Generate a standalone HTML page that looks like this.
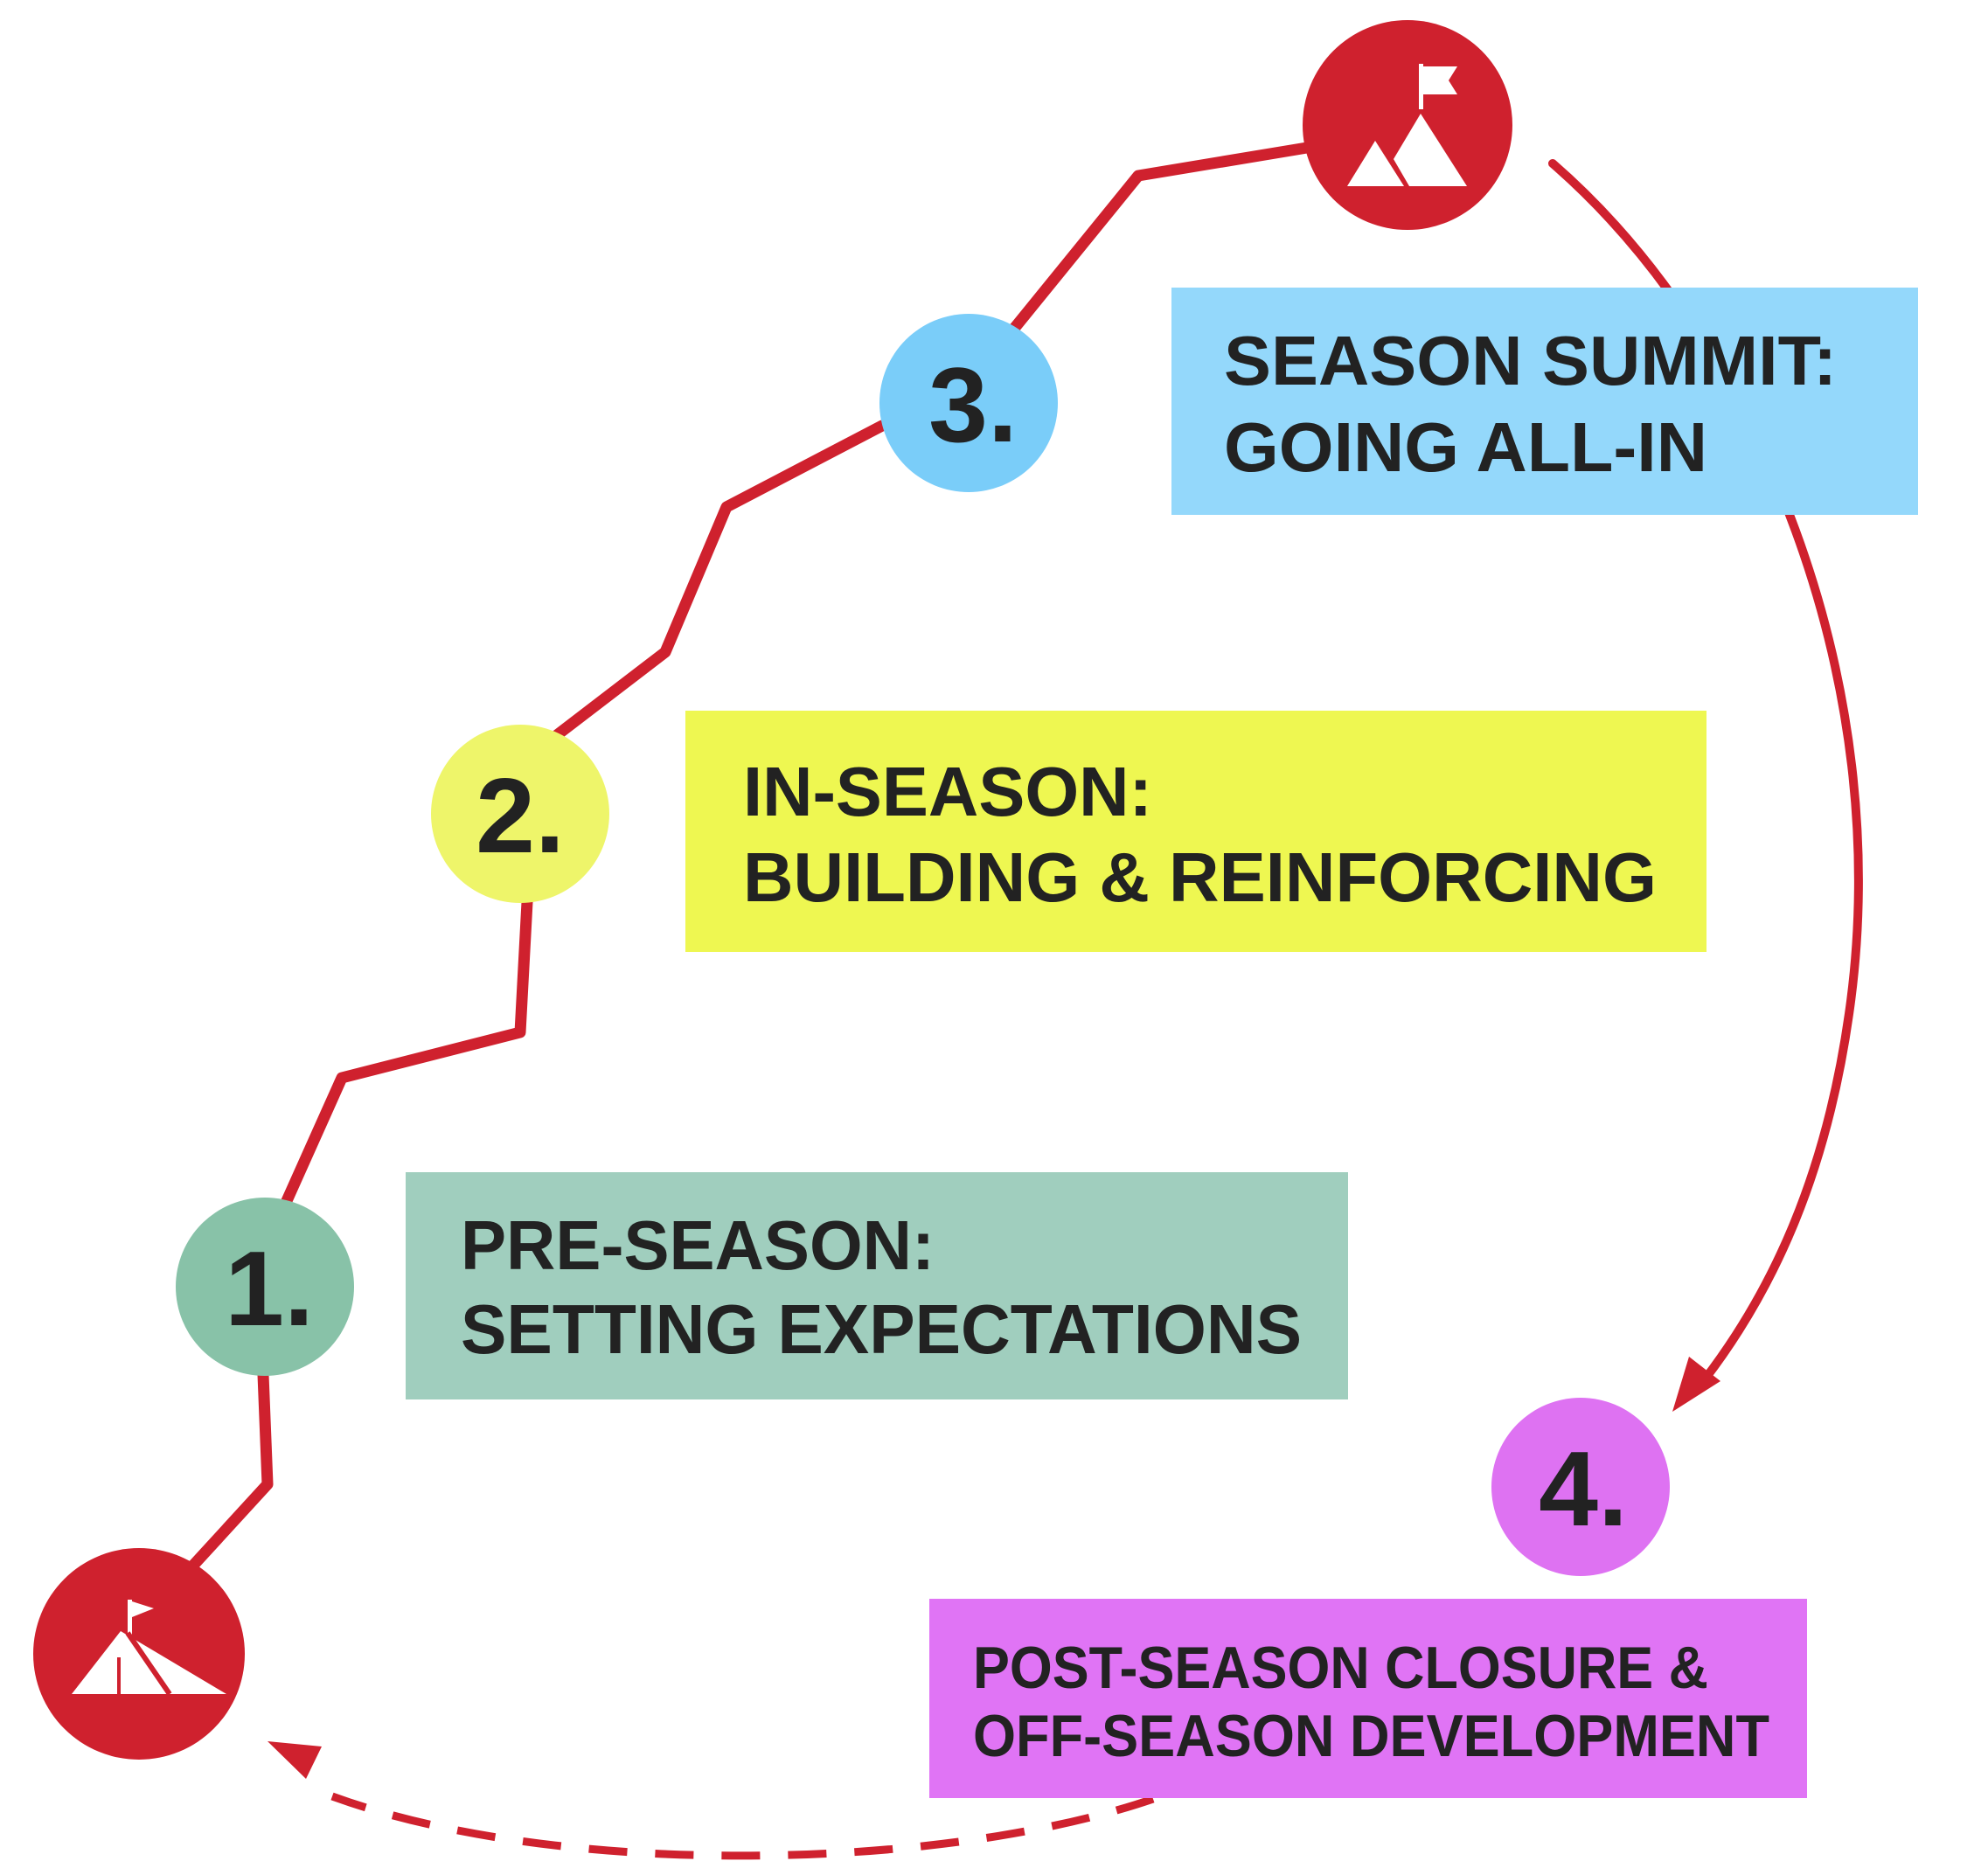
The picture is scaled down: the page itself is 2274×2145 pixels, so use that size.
<!DOCTYPE html>
<html><head><meta charset="utf-8"><style>html,body{margin:0;padding:0;background:#fff}svg{display:block}</style></head>
<body>
<svg width="2274" height="2145" viewBox="0 0 2274 2145" xmlns="http://www.w3.org/2000/svg">
<g font-family="Liberation Sans, sans-serif" font-weight="bold" fill="#222">
<!-- solid arc (behind box) -->
<path d="M1776,187 C2010,390 2170,780 2115,1160 C2088,1350 2025,1480 1950,1578" fill="none" stroke="#CF212E" stroke-width="10" stroke-linecap="round"/>
<polygon points="1913,1615 1932,1552 1968,1580" fill="#CF212E"/>

<!-- dashed arc -->
<path d="M1319,2058 C1080,2140 640,2150 380,2055" fill="none" stroke="#CF212E" stroke-width="9" stroke-dasharray="44 32"/>
<polygon points="306,1992 368,1998 350,2035" fill="#CF212E"/>

<!-- boxes -->
<rect x="1340" y="329" width="854" height="260" fill="#94D8FB"/>
<rect x="784" y="813" width="1168" height="276" fill="#EEF751"/>
<rect x="464" y="1341" width="1078" height="260" fill="#A0CEBE"/>
<rect x="1063" y="1829" width="1004" height="228" fill="#E074F5"/>

<!-- path -->
<polyline points="219,1793 306,1698 297,1472 303,1472 327,1376 391,1233 595,1181 603,1032 595,931 637,841 761,746 831,580 1009,487 1108,461 1155,382 1302,201 1501,168 1610,143" fill="none" stroke="#CF212E" stroke-width="13" stroke-linejoin="round" stroke-linecap="round"/>

<!-- circles -->
<circle cx="1610" cy="143" r="120" fill="#CF212E"/>
<circle cx="159" cy="1892" r="121" fill="#CF212E"/>
<circle cx="1108" cy="461" r="102" fill="#7ACDF9"/>
<circle cx="595" cy="931" r="102" fill="#EEF56A"/>
<circle cx="303" cy="1472" r="102" fill="#88C2A8"/>
<circle cx="1808" cy="1701" r="102" fill="#DE72F2"/>

<!-- top icon -->
<g fill="#fff">
<polygon points="1541,213 1573,161 1606,213"/>
<polygon points="1612,213 1594,182 1625,130 1678,213"/>
<rect x="1623" y="73" width="5" height="52"/>
<polygon points="1628,76 1667,76 1657,92 1667,108 1628,108"/>
</g>
<!-- bottom icon -->
<g fill="#fff">
<polygon points="82,1938 138,1866 259,1938"/>
<rect x="146" y="1830" width="5" height="40"/>
<polygon points="151,1832 176,1840 151,1850"/>
</g>
<line x1="136" y1="1896" x2="136" y2="1938" stroke="#CF212E" stroke-width="4"/>
<line x1="146" y1="1868" x2="194" y2="1938" stroke="#CF212E" stroke-width="6"/>

<!-- numbers -->
<g font-size="122" text-anchor="middle">
<text x="308" y="1516">1.</text>
<text x="595" y="975">2.</text>
<text x="1113" y="505">3.</text>
<text x="1811" y="1745">4.</text>
</g>

<!-- labels -->
<g font-size="80">
<text x="1400" y="440" textLength="701" lengthAdjust="spacingAndGlyphs">SEASON SUMMIT:</text>
<text x="1400" y="539" textLength="553" lengthAdjust="spacingAndGlyphs">GOING ALL-IN</text>
<text x="850" y="933" textLength="468" lengthAdjust="spacingAndGlyphs">IN-SEASON:</text>
<text x="850" y="1031" textLength="1045" lengthAdjust="spacingAndGlyphs">BUILDING &amp; REINFORCING</text>
<text x="527" y="1452" textLength="542" lengthAdjust="spacingAndGlyphs">PRE-SEASON:</text>
<text x="527" y="1548" textLength="962" lengthAdjust="spacingAndGlyphs">SETTING EXPECTATIONS</text>
</g>
<g font-size="68">
<text x="1113" y="1931" textLength="841" lengthAdjust="spacingAndGlyphs">POST-SEASON CLOSURE &amp;</text>
<text x="1113" y="2009" textLength="911" lengthAdjust="spacingAndGlyphs">OFF-SEASON DEVELOPMENT</text>
</g>
</g>
</svg>
</body></html>
